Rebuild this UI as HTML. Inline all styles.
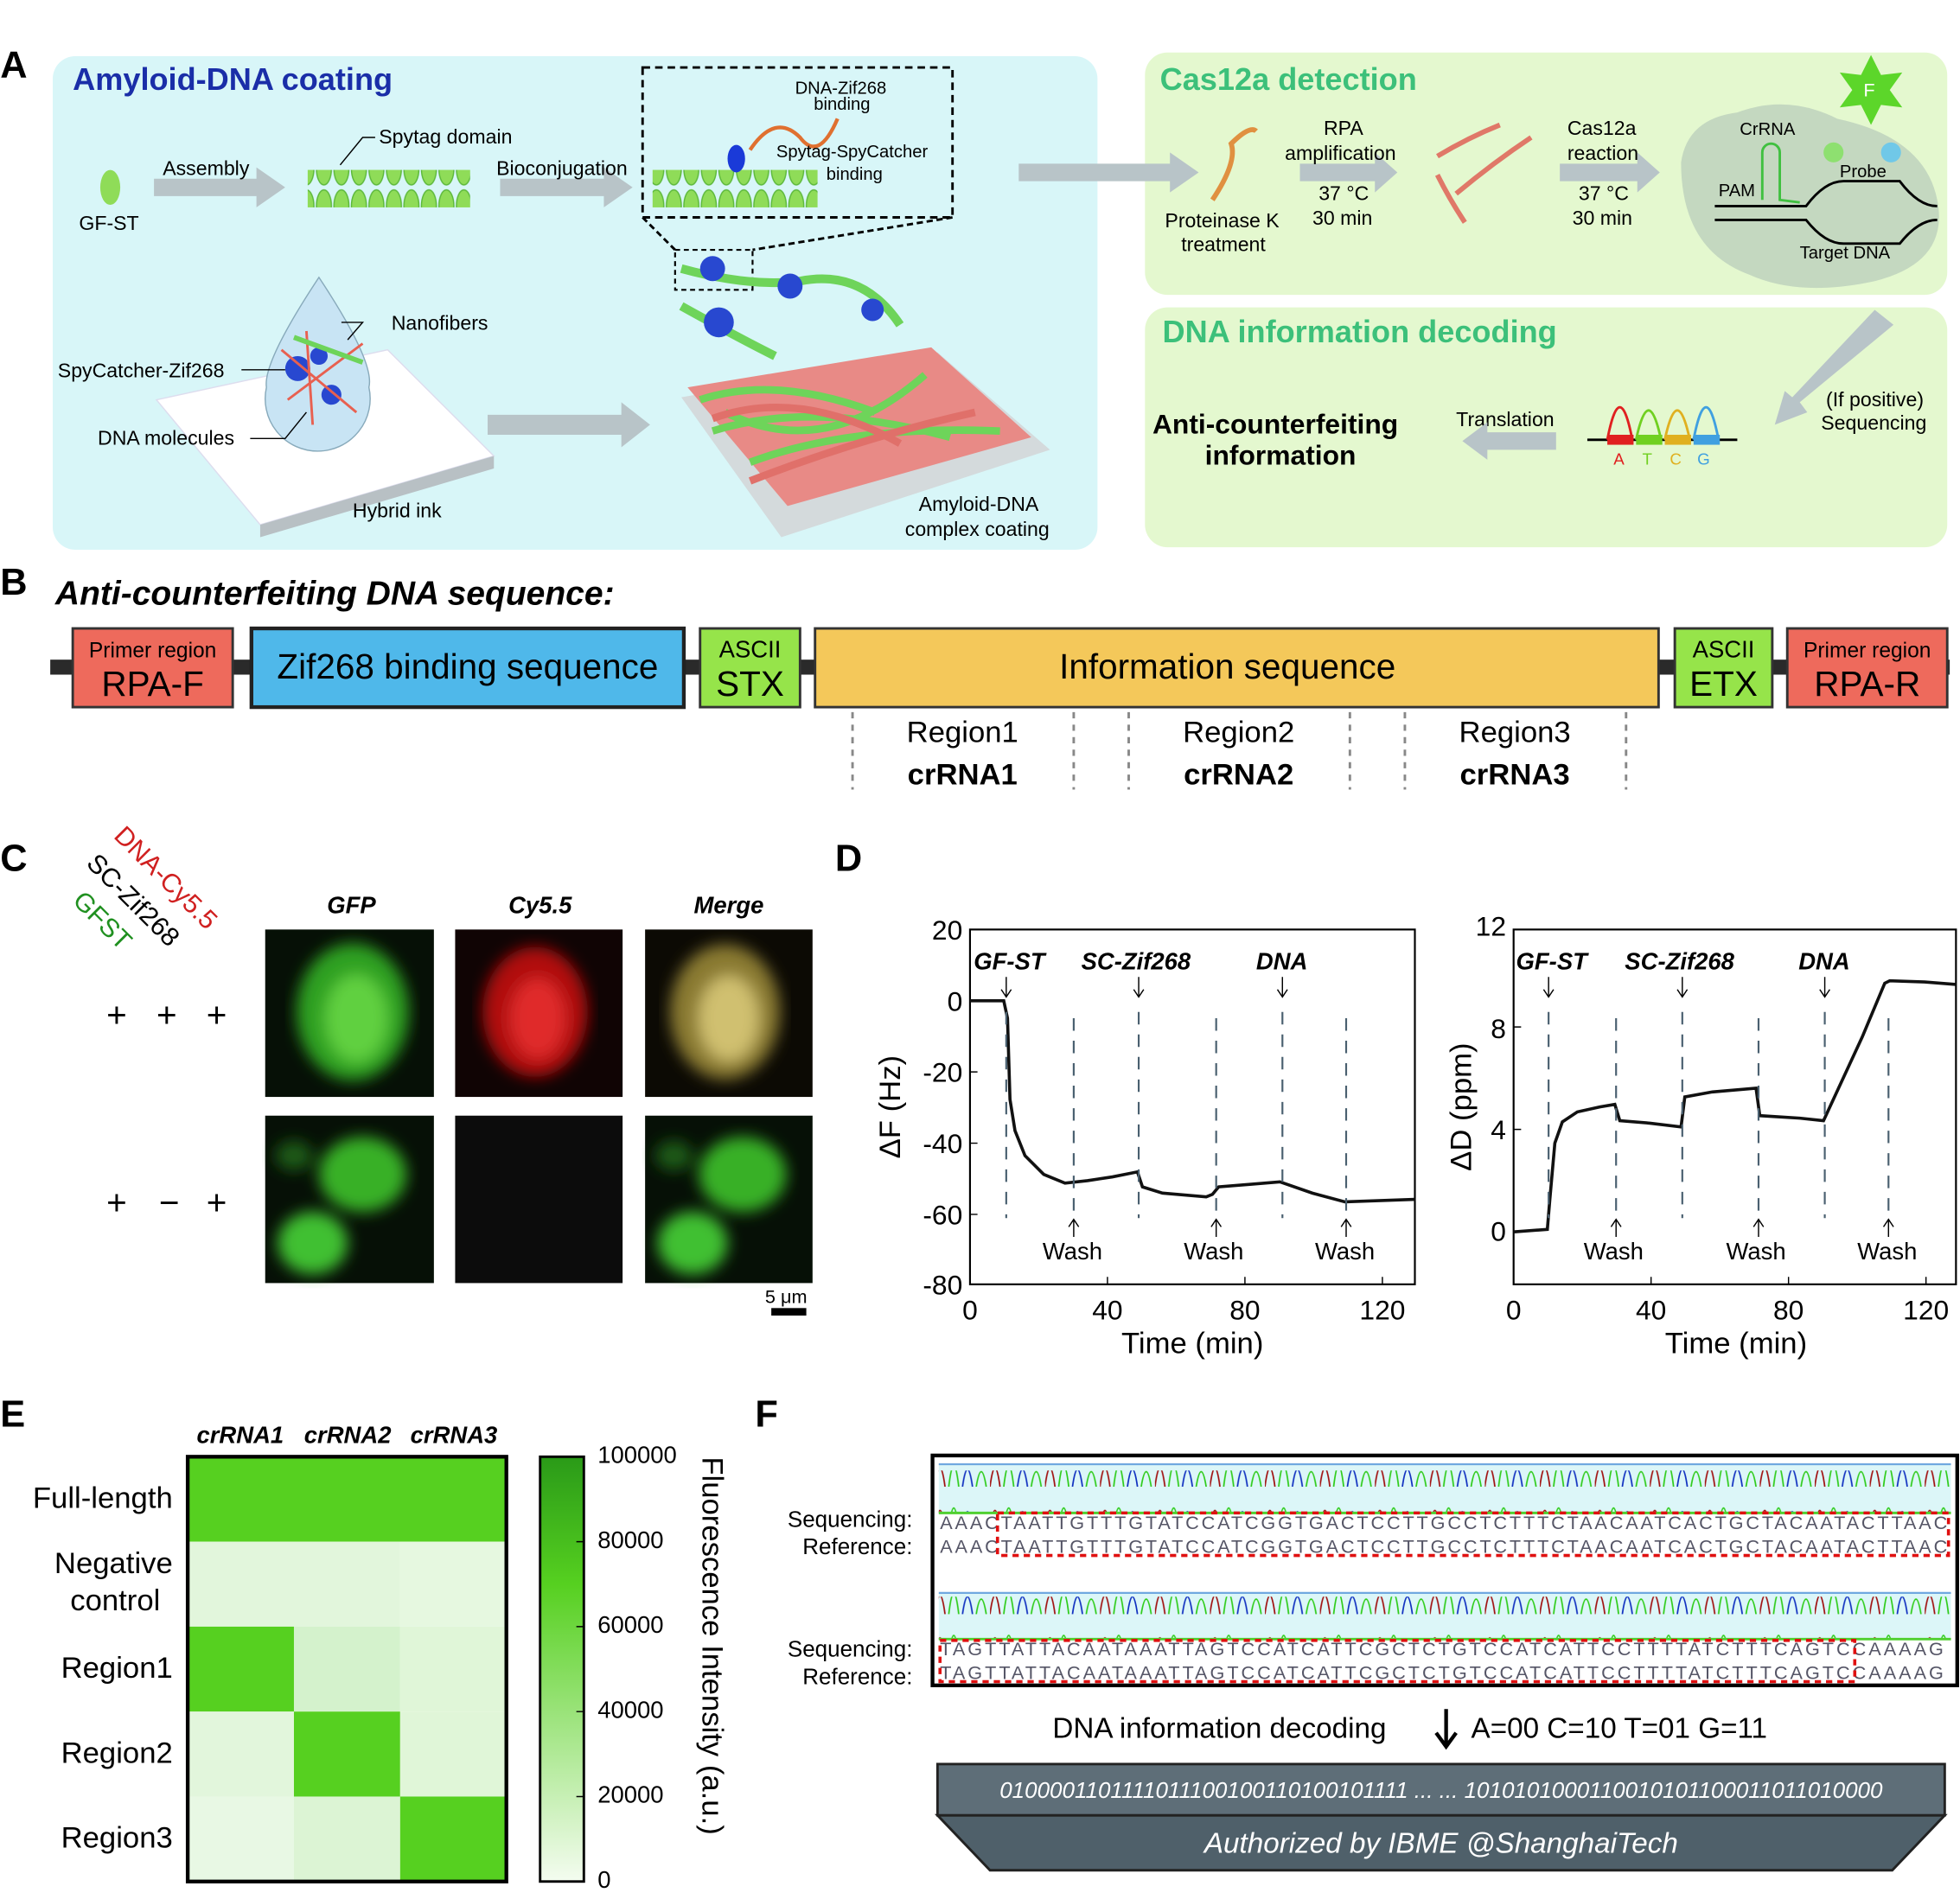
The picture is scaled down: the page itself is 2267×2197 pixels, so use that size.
<!DOCTYPE html>
<html><head><meta charset="utf-8"><style>
html,body{margin:0;padding:0;background:#fff}
svg{display:block}
text{font-family:"Liberation Sans",Arial,sans-serif}
</style></head><body>
<svg width="2267" height="2197" viewBox="0 0 1568 1520" xmlns="http://www.w3.org/2000/svg">
<defs>
<pattern id="fib" width="14" height="30" patternUnits="userSpaceOnUse"><ellipse cx="7" cy="15" rx="6" ry="13" fill="#8fdc58" stroke="#5cb83a" stroke-width="1"/></pattern>
<pattern id="peaks" width="44" height="34" patternUnits="userSpaceOnUse">
<path d="M0,34 Q4,4 8,34" stroke="#a01010" fill="none" stroke-width="1.2"/>
<path d="M11,34 Q15,0 19,34" stroke="#2ecc1a" fill="none" stroke-width="1.2"/>
<path d="M22,34 Q26,6 30,34" stroke="#1030c0" fill="none" stroke-width="1.2"/>
<path d="M33,34 Q37,10 41,34" stroke="#2ecc1a" fill="none" stroke-width="1.2"/>
</pattern>
<filter id="blur"><feGaussianBlur stdDeviation="6"/></filter>
</defs>

<!-- Panel A -->
<text x="0" y="62" font-size="30" font-weight="bold">A</text>
<rect x="42" y="45" width="836" height="395" rx="18" fill="#d8f6f8"/>
<text x="58" y="72" font-size="25" font-weight="bold" fill="#1a2ea8">Amyloid-DNA coating</text>
<rect x="916" y="42" width="642" height="194" rx="18" fill="#e4f8cf"/>
<rect x="916" y="246" width="642" height="192" rx="18" fill="#e4f8cf"/>
<text x="928" y="72" font-size="25" font-weight="bold" fill="#3cc07a">Cas12a detection</text>
<text x="930" y="274" font-size="25" font-weight="bold" fill="#3cc07a">DNA information decoding</text>

<ellipse cx="88" cy="150" rx="8" ry="14" fill="#8fdc58"/>
<text x="63" y="184" font-size="16">GF-ST</text>
<polygon points="123,143 205,143 205,134 228,150 205,166 205,157 123,157" fill="#b8c4c8"/>
<text x="130" y="140" font-size="16">Assembly</text>
<rect x="246" y="136" width="130" height="30" fill="url(#fib)"/>
<text x="303" y="115" font-size="16">Spytag domain</text>
<path d="M300,110 L290,110 L272,132" stroke="#000" fill="none"/>
<polygon points="400,143 483,143 483,134 506,150 483,166 483,157 400,157" fill="#b8c4c8"/>
<text x="397" y="140" font-size="16">Bioconjugation</text>
<rect x="514" y="54" width="248" height="120" fill="none" stroke="#000" stroke-width="2" stroke-dasharray="6,4"/>
<rect x="522" y="136" width="132" height="30" fill="url(#fib)"/>
<ellipse cx="589" cy="127" rx="7" ry="11" fill="#1a3ad8"/>
<path d="M600,120 Q620,90 640,110 Q655,130 670,95" stroke="#e07030" fill="none" stroke-width="3"/>
<text x="636" y="75" font-size="14">DNA-Zif268</text><text x="651" y="88" font-size="14">binding</text>
<text x="621" y="126" font-size="14">Spytag-SpyCatcher</text><text x="661" y="144" font-size="14">binding</text>
<path d="M514,174 L540,200 M762,174 L602,200" stroke="#000" stroke-dasharray="5,3" stroke-width="2"/>
<rect x="540" y="200" width="62" height="32" fill="none" stroke="#000" stroke-dasharray="4,3" stroke-width="1.5"/>
<path d="M545,215 Q600,230 640,225 Q690,215 720,260" stroke="#6ed45a" stroke-width="7" fill="none"/>
<path d="M545,245 Q590,270 620,285" stroke="#6ed45a" stroke-width="7" fill="none"/>
<circle cx="570" cy="215" r="10" fill="#2848d0"/><circle cx="632" cy="229" r="10" fill="#2848d0"/><circle cx="575" cy="258" r="12" fill="#2848d0"/><circle cx="698" cy="248" r="9" fill="#2848d0"/>
<polygon points="545,318 750,282 840,360 625,430" fill="#d4dadc"/>
<polygon points="550,310 745,278 825,350 630,405" fill="#e88a86"/>
<path d="M560,320 Q620,300 700,330 M570,345 Q650,320 760,350 M600,370 Q680,340 800,345 M580,330 Q660,370 740,300" stroke="#6ed45a" stroke-width="6" fill="none"/>
<path d="M570,335 Q640,310 720,355 M600,385 Q690,350 780,330" stroke="#e0706a" stroke-width="6" fill="none"/>
<text x="735" y="409" font-size="16">Amyloid-DNA</text><text x="724" y="429" font-size="16">complex coating</text>
<polygon points="125,320 310,280 395,365 208,420" fill="#fff" stroke="#dde" />
<polygon points="208,420 395,365 395,375 208,430" fill="#b8c0c4"/>
<path d="M255,222 Q300,290 295,310 A42,42 0 1 1 213,310 Q210,290 255,222Z" fill="#c8e4f4" stroke="#8ab" />
<circle cx="238" cy="295" r="10" fill="#2848d0"/><circle cx="265" cy="316" r="8" fill="#2848d0"/><circle cx="255" cy="285" r="7" fill="#2848d0"/>
<path d="M225,280 L285,330 M230,320 L290,275 M245,265 L250,340" stroke="#e86050" stroke-width="2"/>
<path d="M235,270 L290,290" stroke="#6ed45a" stroke-width="4"/>
<text x="313" y="264" font-size="16">Nanofibers</text>
<text x="46" y="302" font-size="16">SpyCatcher-Zif268</text>
<text x="78" y="356" font-size="16">DNA molecules</text>
<text x="282" y="414" font-size="16">Hybrid ink</text>
<path d="M273,258 L290,258 L278,272 M193,296 L228,296 M200,351 L228,351 L245,330" stroke="#000" fill="none"/>
<polygon points="390,332 497,332 497,322 520,340 497,358 497,348 390,348" fill="#b8c4c8"/>
<polygon points="815,131 936,131 936,122 959,138 936,154 936,145 815,145" fill="#b8c4c8"/>

<path d="M970,160 Q990,130 985,115 Q1000,100 1005,105" stroke="#e09040" stroke-width="4" fill="none"/>
<text x="932" y="182" font-size="16">Proteinase K</text><text x="945" y="201" font-size="16">treatment</text>
<polygon points="1040,131 1100,131 1100,122 1118,138 1100,154 1100,145 1040,145" fill="#b8c4c8"/>
<text x="1059" y="108" font-size="16">RPA</text><text x="1028" y="128" font-size="16">amplification</text>
<text x="1055" y="160" font-size="16">37 °C</text><text x="1050" y="180" font-size="16">30 min</text>
<path d="M1150,125 Q1175,110 1200,100 M1165,155 Q1195,130 1225,110 M1150,140 Q1160,160 1172,178" stroke="#e07868" stroke-width="4" fill="none"/>
<polygon points="1248,131 1310,131 1310,122 1328,138 1310,154 1310,145 1248,145" fill="#b8c4c8"/>
<text x="1254" y="108" font-size="16">Cas12a</text><text x="1254" y="128" font-size="16">reaction</text>
<text x="1263" y="160" font-size="16">37 °C</text><text x="1258" y="180" font-size="16">30 min</text>
<path d="M1345,130 Q1350,95 1390,90 Q1430,75 1470,95 Q1540,110 1550,160 Q1560,210 1500,225 Q1440,238 1400,220 Q1345,200 1345,130Z" fill="#c4d8c0"/>
<polygon points="1497,44 1505,60 1522,58 1512,72 1522,86 1505,84 1497,100 1489,84 1472,86 1482,72 1472,58 1489,60" fill="#5cd62a"/>
<text x="1491" y="77" font-size="15" fill="#fff">F</text>
<text x="1392" y="108" font-size="14">CrRNA</text><text x="1472" y="142" font-size="14">Probe</text>
<text x="1375" y="157" font-size="14">PAM</text><text x="1440" y="207" font-size="14">Target DNA</text>
<circle cx="1467" cy="122" r="8" fill="#8ee070"/><circle cx="1513" cy="122" r="8" fill="#70c8e8"/>
<path d="M1372,165 L1445,165 Q1460,145 1475,145 L1520,145 Q1535,165 1550,165 M1372,176 L1445,176 Q1460,195 1475,195 L1520,195 Q1535,176 1550,176" stroke="#000" stroke-width="2" fill="none"/>
<path d="M1410,160 L1410,122 A7,7 0 1 1 1424,122 L1424,160 L1440,162" stroke="#40c040" stroke-width="2" fill="none"/>

<text x="922" y="347" font-size="22" font-weight="bold">Anti-counterfeiting</text>
<text x="964" y="372" font-size="22" font-weight="bold">information</text>
<text x="1165" y="341" font-size="16">Translation</text>
<polygon points="1245,346 1190,346 1190,338 1170,353 1190,368 1190,360 1245,360" fill="#b8c4c8"/>
<path d="M1270,352 L1390,352" stroke="#000" stroke-width="2"/>
<path d="M1286,352 Q1296,300 1306,352" stroke="#e02020" fill="none" stroke-width="2"/>
<path d="M1309,352 Q1319,305 1329,352" stroke="#70d020" fill="none" stroke-width="2"/>
<path d="M1332,352 Q1342,305 1352,352" stroke="#e0b020" fill="none" stroke-width="2"/>
<path d="M1355,352 Q1365,300 1375,352" stroke="#40a0e0" fill="none" stroke-width="2"/>
<rect x="1286" y="348" width="21" height="8" fill="#e02020"/><rect x="1309" y="348" width="21" height="8" fill="#70d020"/><rect x="1332" y="348" width="21" height="8" fill="#e0b020"/><rect x="1355" y="348" width="21" height="8" fill="#40a0e0"/>
<text x="1291" y="372" font-size="13" fill="#e02020">A</text><text x="1314" y="372" font-size="13" fill="#70d020">T</text><text x="1336" y="372" font-size="13" fill="#e0b020">C</text><text x="1358" y="372" font-size="13" fill="#40a0e0">G</text>
<text x="1461" y="325" font-size="16">(If positive)</text><text x="1457" y="344" font-size="16">Sequencing</text>
<polygon points="1500,248 1515,260 1440,322 1446,330 1420,340 1428,313 1434,318" fill="#b8c4c8"/>

<!-- Panel B -->
<text x="0" y="476" font-size="30" font-weight="bold">B</text>
<text x="44" y="484" font-size="27" font-weight="bold" font-style="italic">Anti-counterfeiting DNA sequence:</text>
<rect x="40" y="528" width="1520" height="12" fill="#2a2a2a"/>
<rect x="58" y="503" width="128" height="63" fill="#ee6a5c" stroke="#333" stroke-width="2"/>
<text x="122" y="526" font-size="17" text-anchor="middle">Primer region</text><text x="122" y="557" font-size="28" text-anchor="middle">RPA-F</text>
<rect x="201" y="503" width="346" height="63" fill="#4fb8ea" stroke="#222" stroke-width="3"/>
<text x="374" y="543" font-size="28" text-anchor="middle">Zif268 binding sequence</text>
<rect x="560" y="503" width="80" height="63" fill="#96e44a" stroke="#333" stroke-width="2"/>
<text x="600" y="526" font-size="19" text-anchor="middle">ASCII</text><text x="600" y="557" font-size="28" text-anchor="middle">STX</text>
<rect x="652" y="503" width="675" height="63" fill="#f4c85a" stroke="#333" stroke-width="2"/>
<text x="982" y="543" font-size="28" text-anchor="middle">Information sequence</text>
<rect x="1340" y="503" width="78" height="63" fill="#96e44a" stroke="#333" stroke-width="2"/>
<text x="1379" y="526" font-size="19" text-anchor="middle">ASCII</text><text x="1379" y="557" font-size="28" text-anchor="middle">ETX</text>
<rect x="1430" y="503" width="128" height="63" fill="#ee6a5c" stroke="#333" stroke-width="2"/>
<text x="1494" y="526" font-size="17" text-anchor="middle">Primer region</text><text x="1494" y="557" font-size="28" text-anchor="middle">RPA-R</text>
<g stroke="#888" stroke-width="2" stroke-dasharray="5,5">
<path d="M682,570V632M859,570V632M903,570V632M1080,570V632M1124,570V632M1301,570V632"/></g>
<g font-size="24" text-anchor="middle">
<text x="770" y="594">Region1</text><text x="770" y="628" font-weight="bold">crRNA1</text>
<text x="991" y="594">Region2</text><text x="991" y="628" font-weight="bold">crRNA2</text>
<text x="1212" y="594">Region3</text><text x="1212" y="628" font-weight="bold">crRNA3</text></g>

<!-- Panel C -->
<text x="0" y="697" font-size="30" font-weight="bold">C</text>
<text x="90" y="670" font-size="21" fill="#d02020" transform="rotate(45 90 670)">DNA-Cy5.5</text>
<text x="68" y="692" font-size="21" transform="rotate(45 68 692)">SC-Zif268</text>
<text x="57" y="722" font-size="21" fill="#209020" transform="rotate(45 57 722)">GFST</text>
<g font-size="19" font-weight="bold" font-style="italic" text-anchor="middle">
<text x="281" y="731">GFP</text><text x="432" y="731">Cy5.5</text><text x="583" y="731">Merge</text></g>
<text x="85" y="822" font-size="28">+</text><text x="125" y="822" font-size="28">+</text><text x="165" y="822" font-size="28">+</text>
<text x="85" y="972" font-size="28">+</text><text x="127" y="972" font-size="28">−</text><text x="165" y="972" font-size="28">+</text>
<rect x="212" y="744" width="135" height="134" fill="#061006"/>
<g filter="url(#blur)"><ellipse cx="282" cy="810" rx="45" ry="55" fill="#2ea020"/><ellipse cx="285" cy="815" rx="25" ry="35" fill="#60d040"/></g>
<rect x="364" y="744" width="134" height="134" fill="#100404"/>
<g filter="url(#blur)"><ellipse cx="428" cy="810" rx="42" ry="52" fill="#b01010"/><ellipse cx="430" cy="815" rx="22" ry="32" fill="#e02a2a"/></g>
<rect x="516" y="744" width="134" height="134" fill="#0c0a04"/>
<g filter="url(#blur)"><ellipse cx="580" cy="810" rx="44" ry="54" fill="#8a7a30"/><ellipse cx="583" cy="815" rx="24" ry="34" fill="#d0c070"/></g>
<rect x="212" y="893" width="135" height="134" fill="#061006"/>
<g filter="url(#blur)"><ellipse cx="290" cy="940" rx="35" ry="30" fill="#38b028"/><ellipse cx="250" cy="995" rx="28" ry="25" fill="#40c030"/><ellipse cx="235" cy="925" rx="15" ry="12" fill="#1a5a14"/></g>
<rect x="364" y="893" width="134" height="134" fill="#0c0c0c"/>
<rect x="516" y="893" width="134" height="134" fill="#061006"/>
<g filter="url(#blur)"><ellipse cx="594" cy="940" rx="35" ry="30" fill="#38b028"/><ellipse cx="554" cy="995" rx="28" ry="25" fill="#40c030"/><ellipse cx="539" cy="925" rx="15" ry="12" fill="#1a5a14"/></g>
<rect x="617" y="1047" width="28" height="6" fill="#000"/><text x="612" y="1043" font-size="15">5 μm</text>

<!-- Panel D -->
<text x="668" y="697" font-size="30" font-weight="bold">D</text>
<g font-size="22">
<rect x="776" y="744" width="356" height="284" fill="none" stroke="#000" stroke-width="1.5"/>
<g text-anchor="end"><text x="770" y="752">20</text><text x="770" y="809">0</text><text x="770" y="866">-20</text><text x="770" y="923">-40</text><text x="770" y="980">-60</text><text x="770" y="1036">-80</text></g>
<path d="M776,801h6M776,858h6M776,915h6M776,972h6M886,1028v-6M996,1028v-6M1106,1028v-6" stroke="#000"/>
<g text-anchor="middle"><text x="776" y="1056">0</text><text x="886" y="1056">40</text><text x="996" y="1056">80</text><text x="1106" y="1056">120</text></g>
<text x="954" y="1083" text-anchor="middle" font-size="24">Time (min)</text>
<text x="720" y="886" text-anchor="middle" font-size="24" transform="rotate(-90 720 886)">ΔF (Hz)</text>
<path d="M776,801 L803,801 L806,815 L808,880 L812,905 L820,925 L835,940 L852,947 L870,945 L890,942 L910,938 L914,950 L930,955 L965,958 L970,956 L975,950 L1000,948 L1024,946 L1050,955 L1076,962 L1132,960" stroke="#111" stroke-width="2.5" fill="none"/>
<g stroke="#4a6070" stroke-dasharray="10,8" stroke-width="1.5"><path d="M805,810V975M859,815V975M911,810V975M973,815V975M1026,810V975M1077,815V975"/></g>
<g font-size="19" font-weight="bold" font-style="italic"><text x="779" y="776">GF-ST</text><text x="865" y="776">SC-Zif268</text><text x="1005" y="776">DNA</text></g>
<g stroke="#000" fill="none"><path d="M805,782v16m-4,-6l4,6l4,-6M911,782v16m-4,-6l4,6l4,-6M1026,782v16m-4,-6l4,6l4,-6M859,990v-14m-4,6l4,-6l4,6M973,990v-14m-4,6l4,-6l4,6M1077,990v-14m-4,6l4,-6l4,6"/></g>
<g font-size="19" text-anchor="middle"><text x="858" y="1008">Wash</text><text x="971" y="1008">Wash</text><text x="1076" y="1008">Wash</text></g>

<rect x="1211" y="744" width="354" height="284" fill="none" stroke="#000" stroke-width="1.5"/>
<g text-anchor="end"><text x="1205" y="749">12</text><text x="1205" y="831">8</text><text x="1205" y="912">4</text><text x="1205" y="993">0</text></g>
<path d="M1211,822h6M1211,904h6M1321,1028v-6M1431,1028v-6M1541,1028v-6" stroke="#000"/>
<g text-anchor="middle"><text x="1211" y="1056">0</text><text x="1321" y="1056">40</text><text x="1431" y="1056">80</text><text x="1541" y="1056">120</text></g>
<text x="1389" y="1083" text-anchor="middle" font-size="24">Time (min)</text>
<text x="1177" y="886" text-anchor="middle" font-size="24" transform="rotate(-90 1177 886)">ΔD (ppm)</text>
<path d="M1211,986 L1238,984 L1240,960 L1244,915 L1250,898 L1262,890 L1280,886 L1292,884 L1296,897 L1320,899 L1345,902 L1348,878 L1370,874 L1405,871 L1408,893 L1440,895 L1459,897 L1490,830 L1508,787 L1512,785 L1540,786 L1565,788" stroke="#111" stroke-width="2.5" fill="none"/>
<g stroke="#4a6070" stroke-dasharray="10,8" stroke-width="1.5"><path d="M1239,810V975M1293,815V975M1346,810V975M1407,815V975M1460,810V975M1511,815V975"/></g>
<g font-size="19" font-weight="bold" font-style="italic"><text x="1213" y="776">GF-ST</text><text x="1300" y="776">SC-Zif268</text><text x="1439" y="776">DNA</text></g>
<g stroke="#000" fill="none"><path d="M1239,782v16m-4,-6l4,6l4,-6M1346,782v16m-4,-6l4,6l4,-6M1460,782v16m-4,-6l4,6l4,-6M1293,990v-14m-4,6l4,-6l4,6M1407,990v-14m-4,6l4,-6l4,6M1511,990v-14m-4,6l4,-6l4,6"/></g>
<g font-size="19" text-anchor="middle"><text x="1291" y="1008">Wash</text><text x="1405" y="1008">Wash</text><text x="1510" y="1008">Wash</text></g>
</g>

<!-- Panel E -->
<text x="0" y="1142" font-size="30" font-weight="bold">E</text>
<g font-size="19" font-weight="bold" font-style="italic" text-anchor="middle"><text x="192" y="1155">crRNA1</text><text x="278" y="1155">crRNA2</text><text x="363" y="1155">crRNA3</text></g>
<rect x="150" y="1166" width="255" height="68" fill="#56d020"/>
<rect x="150" y="1234" width="85" height="68" fill="#e2f6dc"/><rect x="235" y="1234" width="85" height="68" fill="#e2f6dc"/><rect x="320" y="1234" width="85" height="68" fill="#e6f8e0"/>
<rect x="150" y="1302" width="85" height="68" fill="#56d020"/><rect x="235" y="1302" width="85" height="68" fill="#d4f2cc"/><rect x="320" y="1302" width="85" height="68" fill="#e0f6d8"/>
<rect x="150" y="1370" width="85" height="68" fill="#e2f6dc"/><rect x="235" y="1370" width="85" height="68" fill="#56d020"/><rect x="320" y="1370" width="85" height="68" fill="#e0f6d8"/>
<rect x="150" y="1438" width="85" height="68" fill="#e8f8e4"/><rect x="235" y="1438" width="85" height="68" fill="#dcf4d4"/><rect x="320" y="1438" width="85" height="68" fill="#56d020"/>
<rect x="150" y="1166" width="255" height="340" fill="none" stroke="#000" stroke-width="3"/>
<g font-size="24" text-anchor="end"><text x="138" y="1207">Full-length</text><text x="138" y="1259">Negative</text><text x="128" y="1289">control</text><text x="138" y="1343">Region1</text><text x="138" y="1411">Region2</text><text x="138" y="1479">Region3</text></g>
<linearGradient id="cb" x1="0" y1="0" x2="0" y2="1"><stop offset="0" stop-color="#2a9a18"/><stop offset="0.3" stop-color="#56d020"/><stop offset="1" stop-color="#f4fcf0"/></linearGradient>
<rect x="432" y="1166" width="35" height="340" fill="url(#cb)" stroke="#000" stroke-width="2"/>
<g stroke="#000"><path d="M461,1234h6M461,1302h6M461,1370h6M461,1438h6"/></g>
<g font-size="19"><text x="478" y="1171">100000</text><text x="478" y="1239">80000</text><text x="478" y="1307">60000</text><text x="478" y="1375">40000</text><text x="478" y="1443">20000</text><text x="478" y="1511">0</text></g>
<text x="562" y="1166" font-size="24" transform="rotate(90 562 1166)">Fluorescence Intensity (a.u.)</text>

<!-- Panel F -->
<text x="604" y="1142" font-size="30" font-weight="bold">F</text>
<rect x="746" y="1165" width="820" height="184" fill="#fff" stroke="#000" stroke-width="3"/>
<rect x="751" y="1172" width="810" height="39" fill="#dcf6f8"/>
<rect x="751" y="1177" width="810" height="34" fill="url(#peaks)"/>
<rect x="751" y="1275" width="810" height="37" fill="#dcf6f8"/>
<rect x="751" y="1278" width="810" height="34" fill="url(#peaks)"/>
<path d="M751,1172H1561M751,1275H1561" stroke="#70a8e0" stroke-width="1.5"/>
<path d="M751,1211H1561M751,1312H1561" stroke="#50d030" stroke-width="2"/>
<g font-size="15" fill="#556" font-family="Liberation Sans">
<text x="752" y="1224" textLength="806" lengthAdjust="spacing">AAACTAATTGTTTGTATCCATCGGTGACTCCTTGCCTCTTTCTAACAATCACTGCTACAATACTTAAC</text>
<text x="752" y="1243" textLength="806" lengthAdjust="spacing">AAACTAATTGTTTGTATCCATCGGTGACTCCTTGCCTCTTTCTAACAATCACTGCTACAATACTTAAC</text>
<text x="752" y="1325" textLength="803" lengthAdjust="spacing">TAGTTATTACAATAAATTAGTCCATCATTCGCTCTGTCCATCATTCCTTTTATCTTTCAGTCCAAAAG</text>
<text x="752" y="1344" textLength="803" lengthAdjust="spacing">TAGTTATTACAATAAATTAGTCCATCATTCGCTCTGTCCATCATTCCTTTTATCTTTCAGTCCAAAAG</text></g>
<rect x="798" y="1211" width="761" height="34" fill="none" stroke="#e01010" stroke-width="2.5" stroke-dasharray="5,4"/>
<rect x="752" y="1313" width="732" height="33" fill="none" stroke="#e01010" stroke-width="2.5" stroke-dasharray="5,4"/>
<g font-size="18" text-anchor="end"><text x="730" y="1222">Sequencing:</text><text x="730" y="1244">Reference:</text><text x="730" y="1326">Sequencing:</text><text x="730" y="1348">Reference:</text></g>
<text x="842" y="1391" font-size="23">DNA information decoding</text>
<path d="M1157,1368V1396m-8,-9l8,11l8,-11" stroke="#000" stroke-width="3" fill="none"/>
<text x="1177" y="1391" font-size="23">A=00 C=10 T=01 G=11</text>
<polygon points="750,1453 1556,1453 1514,1497 792,1497" fill="#4f606a" stroke="#222" stroke-width="2"/>
<rect x="750" y="1412" width="806" height="41" fill="#5e6e78" stroke="#222" stroke-width="2"/>
<text x="1153" y="1439" font-size="18" font-style="italic" fill="#fff" text-anchor="middle">0100001101111011100100110100101111 ... ... 1010101000110010101100011011010000</text>
<text x="1153" y="1483" font-size="23" font-style="italic" fill="#fff" text-anchor="middle">Authorized by IBME @ShanghaiTech</text>
</svg>
</body></html>
